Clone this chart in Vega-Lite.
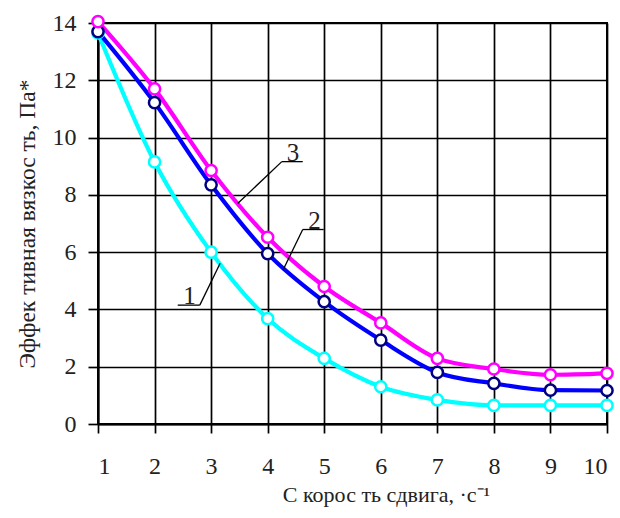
{
  "$schema": "https://vega.github.io/schema/vega-lite/v6.json",
  "width": 509,
  "height": 401,
  "autosize": "none",
  "padding": {"left": 98, "top": 23, "right": 13, "bottom": 94},
  "background": "white",
  "config": {
    "view": {"stroke": "black", "strokeWidth": 2},
    "font": "Liberation Serif",
    "axis": {
      "grid": true,
      "gridColor": "black",
      "gridOpacity": 1,
      "gridWidth": 1.7,
      "domainColor": "black",
      "domainWidth": 2,
      "tickColor": "black",
      "tickWidth": 1.7,
      "labelFont": "Liberation Serif",
      "labelColor": "#222222",
      "titleFont": "Liberation Serif",
      "titleFontWeight": "normal",
      "titleColor": "#222222"
    }
  },
  "datasets": {
    "curves": [
      {"x": 1, "y": 13.65, "s": "1"}, {"x": 2, "y": 9.15, "s": "1"}, {"x": 3, "y": 6.0, "s": "1"}, {"x": 4, "y": 3.68, "s": "1"}, {"x": 5, "y": 2.29, "s": "1"},
      {"x": 6, "y": 1.3, "s": "1"}, {"x": 7, "y": 0.84, "s": "1"}, {"x": 8, "y": 0.65, "s": "1"}, {"x": 9, "y": 0.65, "s": "1"}, {"x": 10, "y": 0.65, "s": "1"},
      {"x": 1, "y": 13.7, "s": "2"}, {"x": 2, "y": 11.22, "s": "2"}, {"x": 3, "y": 8.35, "s": "2"}, {"x": 4, "y": 5.95, "s": "2"}, {"x": 5, "y": 4.27, "s": "2"},
      {"x": 6, "y": 2.93, "s": "2"}, {"x": 7, "y": 1.8, "s": "2"}, {"x": 8, "y": 1.42, "s": "2"}, {"x": 9, "y": 1.18, "s": "2"}, {"x": 10, "y": 1.17, "s": "2"},
      {"x": 1, "y": 14.05, "s": "3"}, {"x": 2, "y": 11.7, "s": "3"}, {"x": 3, "y": 8.85, "s": "3"}, {"x": 4, "y": 6.52, "s": "3"}, {"x": 5, "y": 4.8, "s": "3"},
      {"x": 6, "y": 3.53, "s": "3"}, {"x": 7, "y": 2.29, "s": "3"}, {"x": 8, "y": 1.92, "s": "3"}, {"x": 9, "y": 1.72, "s": "3"}, {"x": 10, "y": 1.77, "s": "3"}
    ],
    "leaders": [
      {"x": 4.25, "y": 9.16, "x2": 4.62, "y2": 9.16},
      {"x": 4.25, "y": 9.16, "x2": 3.47, "y2": 7.7},
      {"x": 4.62, "y": 6.79, "x2": 4.99, "y2": 6.79},
      {"x": 4.62, "y": 6.79, "x2": 4.27, "y2": 5.37},
      {"x": 2.41, "y": 4.15, "x2": 2.8, "y2": 4.15},
      {"x": 2.8, "y": 4.15, "x2": 3.16, "y2": 5.61}
    ],
    "labels": [
      {"x": 4.45, "y": 9.16, "label": "3"},
      {"x": 4.83, "y": 6.79, "label": "2"},
      {"x": 2.62, "y": 4.15, "label": "1"}
    ]
  },
  "encoding": {
    "x": {
      "field": "x", "type": "quantitative",
      "scale": {"domain": [1, 10], "nice": false, "zero": false},
      "axis": {"values": [1, 2, 3, 4, 5, 6, 7, 8, 9, 10], "tickSize": 9, "labelFontSize": 24, "labelPadding": 21, "labelBaseline": "top", "title": "С корос ть сдвига, ·с⁻¹", "titleFontSize": 22, "titlePadding": 6, "titleX": 288, "titleAlign": "center"}
    },
    "y": {
      "field": "y", "type": "quantitative",
      "scale": {"domain": [0, 14], "nice": false},
      "axis": {"values": [0, 2, 4, 6, 8, 10, 12, 14], "tickSize": 10, "labelFontSize": 24, "labelPadding": 12, "title": "Эффек тивная вязкос ть, Па*", "titleFontSize": 23.5, "titlePadding": 13}
    }
  },
  "layer": [
    {
      "data": {"name": "curves"},
      "mark": {"type": "line", "interpolate": "monotone", "strokeWidth": 4.2, "clip": false},
      "encoding": {
        "color": {"field": "s", "type": "nominal", "scale": {"domain": ["1", "2", "3"], "range": ["#00FFFF", "#0000FF", "#FF00FF"]}, "legend": null},
        "order": {"field": "s"}
      }
    },
    {
      "data": {"name": "curves"},
      "mark": {"type": "point", "shape": "circle", "filled": true, "fill": "white", "size": 125, "strokeWidth": 2.5, "opacity": 1, "clip": false},
      "encoding": {
        "stroke": {"field": "s", "type": "nominal", "scale": {"domain": ["1", "2", "3"], "range": ["#00FFFF", "#000080", "#FF00FF"]}, "legend": null}
      }
    },
    {
      "data": {"name": "leaders"},
      "mark": {"type": "rule", "color": "black", "strokeWidth": 1.3},
      "encoding": {
        "x2": {"field": "x2"},
        "y2": {"field": "y2"}
      }
    },
    {
      "data": {"name": "labels"},
      "mark": {"type": "text", "font": "Liberation Serif", "fontSize": 25, "baseline": "alphabetic", "align": "center", "color": "#222222", "dy": -1},
      "encoding": {
        "text": {"field": "label"}
      }
    }
  ]
}
